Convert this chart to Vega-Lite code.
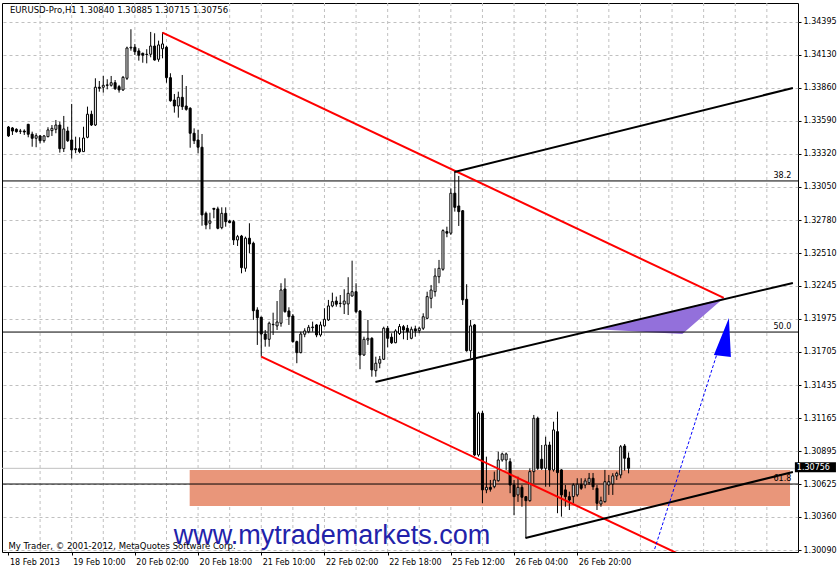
{
  "$schema": "https://vega.github.io/schema/vega-lite/v6.json",
  "width": 796,
  "height": 549,
  "autosize": "none",
  "padding": {"left": 2, "top": 3, "right": 41, "bottom": 18},
  "background": "#ffffff",
  "config": {
    "view": {"stroke": "#000000", "strokeWidth": 1},
    "font": "DejaVu Sans",
    "axis": {"labelFont": "DejaVu Sans", "labelFontSize": 8, "labelColor": "#000000", "tickColor": "#000000", "domain": false, "gridColor": "#c0c0c0", "gridDash": [3, 3], "gridWidth": 1, "labelOverlap": false, "labelFlush": false, "labelBound": false, "labelSeparation": 0}
  },
  "datasets": {
    "candles": [
      {"i":0,"o":1.33539,"h":1.33547,"l":1.33458,"c":1.33466},
      {"i":1,"o":1.33531,"h":1.33539,"l":1.33474,"c":1.33506},
      {"i":2,"o":1.33520,"h":1.33528,"l":1.33493,"c":1.33501},
      {"i":3,"o":1.33506,"h":1.33523,"l":1.33482,"c":1.33504},
      {"i":4,"o":1.33506,"h":1.33520,"l":1.33474,"c":1.33498},
      {"i":5,"o":1.33561,"h":1.33564,"l":1.33455,"c":1.33480},
      {"i":6,"o":1.33480,"h":1.33501,"l":1.33378,"c":1.33447},
      {"i":7,"o":1.33447,"h":1.33488,"l":1.33374,"c":1.33468},
      {"i":8,"o":1.33466,"h":1.33474,"l":1.33406,"c":1.33427},
      {"i":9,"o":1.33427,"h":1.33474,"l":1.33411,"c":1.33466},
      {"i":10,"o":1.33460,"h":1.33537,"l":1.33455,"c":1.33515},
      {"i":11,"o":1.33509,"h":1.33555,"l":1.33466,"c":1.33528},
      {"i":12,"o":1.33520,"h":1.33596,"l":1.33488,"c":1.33555},
      {"i":13,"o":1.33555,"h":1.33582,"l":1.33330,"c":1.33362},
      {"i":14,"o":1.33362,"h":1.33629,"l":1.33335,"c":1.33523},
      {"i":15,"o":1.33506,"h":1.33541,"l":1.33417,"c":1.33427},
      {"i":16,"o":1.33433,"h":1.33727,"l":1.33281,"c":1.33352},
      {"i":17,"o":1.33362,"h":1.33460,"l":1.33325,"c":1.33354},
      {"i":18,"o":1.33362,"h":1.33455,"l":1.33325,"c":1.33338},
      {"i":19,"o":1.33338,"h":1.33541,"l":1.33335,"c":1.33449},
      {"i":20,"o":1.33455,"h":1.33705,"l":1.33447,"c":1.33643},
      {"i":21,"o":1.33643,"h":1.33672,"l":1.33547,"c":1.33555},
      {"i":22,"o":1.33555,"h":1.33936,"l":1.33547,"c":1.33863},
      {"i":23,"o":1.33863,"h":1.33914,"l":1.33827,"c":1.33855},
      {"i":24,"o":1.33863,"h":1.33955,"l":1.33819,"c":1.33879},
      {"i":25,"o":1.33882,"h":1.33928,"l":1.33846,"c":1.33879},
      {"i":26,"o":1.33879,"h":1.33955,"l":1.33868,"c":1.33900},
      {"i":27,"o":1.33900,"h":1.33922,"l":1.33841,"c":1.33851},
      {"i":28,"o":1.33868,"h":1.33882,"l":1.33819,"c":1.33841},
      {"i":29,"o":1.33841,"h":1.33955,"l":1.33833,"c":1.33944},
      {"i":30,"o":1.33936,"h":1.34194,"l":1.33922,"c":1.34183},
      {"i":31,"o":1.34183,"h":1.34336,"l":1.34161,"c":1.34189},
      {"i":32,"o":1.34189,"h":1.34216,"l":1.34126,"c":1.34153},
      {"i":33,"o":1.34159,"h":1.34181,"l":1.34080,"c":1.34124},
      {"i":34,"o":1.34140,"h":1.34145,"l":1.34063,"c":1.34124},
      {"i":35,"o":1.34132,"h":1.34173,"l":1.34058,"c":1.34130},
      {"i":36,"o":1.34132,"h":1.34314,"l":1.34107,"c":1.34199},
      {"i":37,"o":1.34199,"h":1.34303,"l":1.34080,"c":1.34085},
      {"i":38,"o":1.34091,"h":1.34243,"l":1.34071,"c":1.34208},
      {"i":39,"o":1.34177,"h":1.34311,"l":1.34099,"c":1.34216},
      {"i":40,"o":1.34189,"h":1.34199,"l":1.33900,"c":1.33941},
      {"i":41,"o":1.33941,"h":1.33977,"l":1.33745,"c":1.33753},
      {"i":42,"o":1.33759,"h":1.33808,"l":1.33656,"c":1.33710},
      {"i":43,"o":1.33710,"h":1.33827,"l":1.33615,"c":1.33781},
      {"i":44,"o":1.33781,"h":1.33963,"l":1.33678,"c":1.33705},
      {"i":45,"o":1.33710,"h":1.33873,"l":1.33672,"c":1.33683},
      {"i":46,"o":1.33692,"h":1.33700,"l":1.33370,"c":1.33488},
      {"i":47,"o":1.33488,"h":1.33528,"l":1.33400,"c":1.33427},
      {"i":48,"o":1.33433,"h":1.33515,"l":1.33325,"c":1.33374},
      {"i":49,"o":1.33374,"h":1.33482,"l":1.32734,"c":1.32822},
      {"i":50,"o":1.32835,"h":1.32849,"l":1.32705,"c":1.32740},
      {"i":51,"o":1.32754,"h":1.32840,"l":1.32705,"c":1.32773},
      {"i":52,"o":1.32876,"h":1.32878,"l":1.32795,"c":1.32868},
      {"i":53,"o":1.32871,"h":1.32889,"l":1.32705,"c":1.32713},
      {"i":54,"o":1.32718,"h":1.32884,"l":1.32705,"c":1.32835},
      {"i":55,"o":1.32835,"h":1.32884,"l":1.32726,"c":1.32767},
      {"i":56,"o":1.32773,"h":1.32781,"l":1.32754,"c":1.32759},
      {"i":57,"o":1.32767,"h":1.32781,"l":1.32577,"c":1.32618},
      {"i":58,"o":1.32618,"h":1.32659,"l":1.32569,"c":1.32645},
      {"i":59,"o":1.32650,"h":1.32659,"l":1.32346,"c":1.32392},
      {"i":60,"o":1.32387,"h":1.32645,"l":1.32359,"c":1.32632},
      {"i":61,"o":1.32632,"h":1.32754,"l":1.32509,"c":1.32585},
      {"i":62,"o":1.32591,"h":1.32604,"l":1.31966,"c":1.32041},
      {"i":63,"o":1.32047,"h":1.32069,"l":1.31762,"c":1.31984},
      {"i":64,"o":1.31988,"h":1.31992,"l":1.31666,"c":1.31851},
      {"i":65,"o":1.31851,"h":1.31884,"l":1.31748,"c":1.31808},
      {"i":66,"o":1.31808,"h":1.31952,"l":1.31748,"c":1.31939},
      {"i":67,"o":1.31930,"h":1.32025,"l":1.31843,"c":1.31927},
      {"i":68,"o":1.31917,"h":1.32120,"l":1.31884,"c":1.31949},
      {"i":69,"o":1.31939,"h":1.32265,"l":1.31911,"c":1.32210},
      {"i":70,"o":1.32218,"h":1.32305,"l":1.32025,"c":1.32033},
      {"i":71,"o":1.32039,"h":1.32069,"l":1.31925,"c":1.31992},
      {"i":72,"o":1.31998,"h":1.32014,"l":1.31780,"c":1.31789},
      {"i":73,"o":1.31789,"h":1.31797,"l":1.31613,"c":1.31699},
      {"i":74,"o":1.31699,"h":1.31870,"l":1.31694,"c":1.31851},
      {"i":75,"o":1.31849,"h":1.31898,"l":1.31825,"c":1.31876},
      {"i":76,"o":1.31870,"h":1.31925,"l":1.31857,"c":1.31906},
      {"i":77,"o":1.31903,"h":1.31952,"l":1.31870,"c":1.31908},
      {"i":78,"o":1.31925,"h":1.31933,"l":1.31825,"c":1.31843},
      {"i":79,"o":1.31843,"h":1.31952,"l":1.31829,"c":1.31925},
      {"i":80,"o":1.31917,"h":1.32061,"l":1.31911,"c":1.31971},
      {"i":81,"o":1.31966,"h":1.32129,"l":1.31957,"c":1.32080},
      {"i":82,"o":1.32080,"h":1.32188,"l":1.32069,"c":1.32115},
      {"i":83,"o":1.32120,"h":1.32156,"l":1.32074,"c":1.32094},
      {"i":84,"o":1.32102,"h":1.32169,"l":1.32069,"c":1.32100},
      {"i":85,"o":1.32094,"h":1.32216,"l":1.32014,"c":1.32120},
      {"i":86,"o":1.32096,"h":1.32314,"l":1.32006,"c":1.32183},
      {"i":87,"o":1.32161,"h":1.32449,"l":1.32156,"c":1.32196},
      {"i":88,"o":1.32196,"h":1.32265,"l":1.32020,"c":1.32033},
      {"i":89,"o":1.32039,"h":1.32047,"l":1.31564,"c":1.31680},
      {"i":90,"o":1.31680,"h":1.31829,"l":1.31672,"c":1.31808},
      {"i":91,"o":1.31802,"h":1.31966,"l":1.31762,"c":1.31816},
      {"i":92,"o":1.31816,"h":1.31825,"l":1.31503,"c":1.31558},
      {"i":93,"o":1.31552,"h":1.31666,"l":1.31503,"c":1.31613},
      {"i":94,"o":1.31613,"h":1.31672,"l":1.31572,"c":1.31645},
      {"i":95,"o":1.31645,"h":1.31911,"l":1.31639,"c":1.31898},
      {"i":96,"o":1.31898,"h":1.31917,"l":1.31743,"c":1.31816},
      {"i":97,"o":1.31825,"h":1.31857,"l":1.31770,"c":1.31780},
      {"i":98,"o":1.31780,"h":1.31890,"l":1.31776,"c":1.31876},
      {"i":99,"o":1.31855,"h":1.31933,"l":1.31843,"c":1.31912},
      {"i":100,"o":1.31911,"h":1.31925,"l":1.31808,"c":1.31884},
      {"i":101,"o":1.31898,"h":1.31925,"l":1.31802,"c":1.31870},
      {"i":102,"o":1.31816,"h":1.31911,"l":1.31808,"c":1.31890},
      {"i":103,"o":1.31893,"h":1.31919,"l":1.31829,"c":1.31876},
      {"i":104,"o":1.31878,"h":1.31911,"l":1.31857,"c":1.31898},
      {"i":105,"o":1.31898,"h":1.32020,"l":1.31884,"c":1.31992},
      {"i":106,"o":1.31979,"h":1.32196,"l":1.31971,"c":1.32156},
      {"i":107,"o":1.32142,"h":1.32251,"l":1.32061,"c":1.32210},
      {"i":108,"o":1.32196,"h":1.32387,"l":1.32156,"c":1.32324},
      {"i":109,"o":1.32318,"h":1.32455,"l":1.32265,"c":1.32387},
      {"i":110,"o":1.32379,"h":1.32705,"l":1.32367,"c":1.32694},
      {"i":111,"o":1.32686,"h":1.32726,"l":1.32640,"c":1.32673},
      {"i":112,"o":1.32673,"h":1.33039,"l":1.32659,"c":1.32999},
      {"i":113,"o":1.32999,"h":1.33175,"l":1.32849,"c":1.32884},
      {"i":114,"o":1.32895,"h":1.33140,"l":1.32732,"c":1.32849},
      {"i":115,"o":1.32856,"h":1.32862,"l":1.32088,"c":1.32129},
      {"i":116,"o":1.32134,"h":1.32257,"l":1.31707,"c":1.31715},
      {"i":117,"o":1.31715,"h":1.31966,"l":1.31653,"c":1.31917},
      {"i":118,"o":1.31925,"h":1.31933,"l":1.30857,"c":1.30865},
      {"i":119,"o":1.30865,"h":1.31218,"l":1.30851,"c":1.31205},
      {"i":120,"o":1.31205,"h":1.31226,"l":1.30471,"c":1.30580},
      {"i":121,"o":1.30580,"h":1.30851,"l":1.30553,"c":1.30601},
      {"i":122,"o":1.30601,"h":1.30661,"l":1.30566,"c":1.30585},
      {"i":123,"o":1.30606,"h":1.30729,"l":1.30593,"c":1.30661},
      {"i":124,"o":1.30655,"h":1.30892,"l":1.30647,"c":1.30824},
      {"i":125,"o":1.30824,"h":1.30884,"l":1.30810,"c":1.30873},
      {"i":126,"o":1.30824,"h":1.30884,"l":1.30743,"c":1.30873},
      {"i":127,"o":1.30810,"h":1.30838,"l":1.30553,"c":1.30620},
      {"i":128,"o":1.30620,"h":1.30661,"l":1.30376,"c":1.30525},
      {"i":129,"o":1.30539,"h":1.30688,"l":1.30482,"c":1.30601},
      {"i":130,"o":1.30601,"h":1.30620,"l":1.30443,"c":1.30520},
      {"i":131,"o":1.30525,"h":1.30525,"l":1.30186,"c":1.30492},
      {"i":132,"o":1.30492,"h":1.30756,"l":1.30484,"c":1.30729},
      {"i":133,"o":1.30729,"h":1.31191,"l":1.30634,"c":1.31164},
      {"i":134,"o":1.31164,"h":1.31177,"l":1.30743,"c":1.30756},
      {"i":135,"o":1.30830,"h":1.30946,"l":1.30743,"c":1.30756},
      {"i":136,"o":1.30756,"h":1.31014,"l":1.30606,"c":1.30946},
      {"i":137,"o":1.30946,"h":1.30973,"l":1.30606,"c":1.30743},
      {"i":138,"o":1.30743,"h":1.31136,"l":1.30729,"c":1.31069},
      {"i":139,"o":1.31055,"h":1.31218,"l":1.30390,"c":1.30721},
      {"i":140,"o":1.30743,"h":1.30748,"l":1.30362,"c":1.30539},
      {"i":141,"o":1.30580,"h":1.30620,"l":1.30443,"c":1.30525},
      {"i":142,"o":1.30525,"h":1.30566,"l":1.30416,"c":1.30498},
      {"i":143,"o":1.30525,"h":1.30634,"l":1.30471,"c":1.30620},
      {"i":144,"o":1.30539,"h":1.30675,"l":1.30525,"c":1.30626},
      {"i":145,"o":1.30626,"h":1.30675,"l":1.30580,"c":1.30593},
      {"i":146,"o":1.30620,"h":1.30675,"l":1.30593,"c":1.30653},
      {"i":147,"o":1.30639,"h":1.30718,"l":1.30620,"c":1.30675},
      {"i":148,"o":1.30675,"h":1.30718,"l":1.30580,"c":1.30606},
      {"i":149,"o":1.30593,"h":1.30620,"l":1.30416,"c":1.30471},
      {"i":150,"o":1.30465,"h":1.30525,"l":1.30443,"c":1.30492},
      {"i":151,"o":1.30484,"h":1.30743,"l":1.30476,"c":1.30647},
      {"i":152,"o":1.30620,"h":1.30702,"l":1.30539,"c":1.30647},
      {"i":153,"o":1.30628,"h":1.30716,"l":1.30539,"c":1.30694},
      {"i":154,"o":1.30694,"h":1.30729,"l":1.30661,"c":1.30716},
      {"i":155,"o":1.30702,"h":1.30946,"l":1.30675,"c":1.30932},
      {"i":156,"o":1.30938,"h":1.30954,"l":1.30737,"c":1.30838},
      {"i":157,"o":1.30840,"h":1.30885,"l":1.30715,"c":1.30756}
    ],
    "trend": [
      {"id":"r1","i":39.0,"p":1.34308},
      {"id":"r1","i":181.1,"p":1.32145},
      {"id":"r2","i":64.0,"p":1.31666},
      {"id":"r2","i":181.1,"p":1.29884},
      {"id":"b1","i":112.9,"p":1.33172},
      {"id":"b1","i":198.6,"p":1.33857},
      {"id":"b2","i":92.9,"p":1.31460},
      {"id":"b2","i":198.6,"p":1.32267},
      {"id":"b3","i":130.9,"p":1.30188},
      {"id":"b3","i":198.6,"p":1.30726}
    ],
    "fib": [
      {"lvl":"38.2","p":1.33099},
      {"lvl":"50.0","p":1.31867},
      {"lvl":"61.8","p":1.30628}
    ],
    "vgrid": [
      {"i":8},{"i":16},{"i":24},{"i":32},{"i":40},{"i":48},{"i":56},{"i":64},{"i":72},{"i":80},{"i":88},{"i":96},{"i":104},{"i":112},{"i":120},{"i":128},{"i":136},{"i":144},{"i":152},{"i":160},{"i":168},{"i":176},{"i":184},{"i":192}
    ]
  },
  "layer": [
    {
      "data": {"name": "candles"},
      "mark": {"type": "rule", "color": "#000000", "strokeWidth": 1, "opacity": 0},
      "encoding": {
        "x": {"field": "i", "type": "quantitative", "scale": {"domain": [-0.375, 198.625], "nice": false, "zero": false},
          "axis": {"title": null, "values": [0,16,32,48,64,80,96,112,128,144], "tickCount": 40, "grid": false, "ticks": true, "tickSize": 3, "labelAlign": "left", "labelBaseline": "top", "labelPadding": 3, "labelOffset": 1, "labelFlush": false, "labelOverlap": false, "labelBound": false,
            "labelExpr": "['18 Feb 2013','19 Feb 10:00','20 Feb 02:00','20 Feb 18:00','21 Feb 10:00','22 Feb 02:00','22 Feb 18:00','25 Feb 12:00','26 Feb 04:00','26 Feb 20:00'][round(datum.value / 16)]"}},
        "y": {"field": "l", "type": "quantitative", "scale": {"domain": [1.300737, 1.345499], "nice": false, "zero": false},
          "axis": {"title": null, "orient": "right", "values": [1.30090,1.30360,1.30625,1.30895,1.31165,1.31435,1.31705,1.31975,1.32245,1.32510,1.32780,1.33050,1.33320,1.33590,1.33860,1.34130,1.34395], "tickCount": 40, "format": ".5f", "grid": true, "ticks": true, "tickSize": 3, "labelPadding": 2, "labelAlign": "left", "labelBaseline": "middle", "labelOverlap": false, "labelFlush": false, "labelBound": false}}
      }
    },
    {
      "data": {"name": "vgrid"},
      "mark": {"type": "rule", "color": "#c0c0c0", "strokeWidth": 1, "strokeDash": [3, 3]},
      "encoding": {
        "x": {"field": "i", "type": "quantitative", "scale": {"domain": [-0.375, 198.625], "nice": false, "zero": false}}
      }
    },
    {
      "data": {"values": [{"i1":45.875,"i2":197.875,"p1":1.30742,"p2":1.30449}]},
      "mark": {"type": "rect", "color": "#E9967A"},
      "encoding": {
        "x": {"field": "i1", "type": "quantitative", "scale": {"domain": [-0.375, 198.625], "nice": false, "zero": false}},
        "x2": {"field": "i2"},
        "y": {"field": "p1", "type": "quantitative", "scale": {"domain": [1.300737, 1.345499], "nice": false, "zero": false}},
        "y2": {"field": "p2"}
      }
    },
    {
      "data": {"values": [{"i":149.1,"top":1.31890,"bot":1.31890},{"i":170.6,"top":1.32054,"bot":1.31851},{"i":181.1,"top":1.32145,"bot":1.32145}]},
      "mark": {"type": "area", "color": "#9370DB", "opacity": 1},
      "encoding": {
        "x": {"field": "i", "type": "quantitative", "scale": {"domain": [-0.375, 198.625], "nice": false, "zero": false}},
        "y": {"field": "top", "type": "quantitative", "scale": {"domain": [1.300737, 1.345499], "nice": false, "zero": false}},
        "y2": {"field": "bot"}
      }
    },
    {
      "data": {"values": [{"p": 1.30756}]},
      "mark": {"type": "rule", "color": "#c0c0c0", "strokeWidth": 1},
      "encoding": {
        "y": {"field": "p", "type": "quantitative", "scale": {"domain": [1.300737, 1.345499], "nice": false, "zero": false}}
      }
    },
    {
      "data": {"name": "fib"},
      "mark": {"type": "rule", "color": "#000000", "strokeWidth": 1},
      "encoding": {
        "y": {"field": "p", "type": "quantitative", "scale": {"domain": [1.300737, 1.345499], "nice": false, "zero": false}}
      }
    },
    {
      "data": {"name": "fib"},
      "mark": {"type": "text", "align": "right", "baseline": "bottom", "dy": -1, "fontSize": 8, "font": "DejaVu Sans", "color": "#000000"},
      "encoding": {
        "x": {"datum": 198.2, "type": "quantitative", "scale": {"domain": [-0.375, 198.625], "nice": false, "zero": false}},
        "y": {"field": "p", "type": "quantitative", "scale": {"domain": [1.300737, 1.345499], "nice": false, "zero": false}},
        "text": {"field": "lvl"}
      }
    },
    {
      "data": {"name": "candles"},
      "mark": {"type": "rule", "color": "#000000", "strokeWidth": 1},
      "encoding": {
        "x": {"field": "i", "type": "quantitative", "scale": {"domain": [-0.375, 198.625], "nice": false, "zero": false}},
        "y": {"field": "l", "type": "quantitative", "scale": {"domain": [1.300737, 1.345499], "nice": false, "zero": false}},
        "y2": {"field": "h"}
      }
    },
    {
      "data": {"name": "candles"},
      "mark": {"type": "bar", "size": 2, "stroke": "#000000", "strokeWidth": 1},
      "encoding": {
        "x": {"field": "i", "type": "quantitative", "scale": {"domain": [-0.375, 198.625], "nice": false, "zero": false}},
        "y": {"field": "o", "type": "quantitative", "scale": {"domain": [1.300737, 1.345499], "nice": false, "zero": false}},
        "y2": {"field": "c"},
        "fill": {"condition": {"test": "datum.c > datum.o", "value": "#ffffff"}, "value": "#000000"}
      }
    },
    {
      "data": {"name": "trend"},
      "transform": [{"filter": "substring(datum.id, 0, 1) == 'r'"}],
      "mark": {"type": "line", "color": "#ff0000", "strokeWidth": 2, "clip": true},
      "encoding": {
        "x": {"field": "i", "type": "quantitative", "scale": {"domain": [-0.375, 198.625], "nice": false, "zero": false}},
        "y": {"field": "p", "type": "quantitative", "scale": {"domain": [1.300737, 1.345499], "nice": false, "zero": false}},
        "detail": {"field": "id"}
      }
    },
    {
      "data": {"name": "trend"},
      "transform": [{"filter": "substring(datum.id, 0, 1) == 'b'"}],
      "mark": {"type": "line", "color": "#000000", "strokeWidth": 2, "clip": true},
      "encoding": {
        "x": {"field": "i", "type": "quantitative", "scale": {"domain": [-0.375, 198.625], "nice": false, "zero": false}},
        "y": {"field": "p", "type": "quantitative", "scale": {"domain": [1.300737, 1.345499], "nice": false, "zero": false}},
        "detail": {"field": "id"}
      }
    },
    {
      "data": {"values": [{"i":163.6,"p":1.30098},{"i":180.1,"p":1.31762}]},
      "mark": {"type": "line", "color": "#0000ff", "strokeWidth": 1, "strokeDash": [3, 2], "clip": true},
      "encoding": {
        "x": {"field": "i", "type": "quantitative", "scale": {"domain": [-0.375, 198.625], "nice": false, "zero": false}},
        "y": {"field": "p", "type": "quantitative", "scale": {"domain": [1.300737, 1.345499], "nice": false, "zero": false}}
      }
    },
    {
      "data": {"values": [{"i":178.6,"top":1.31680,"bot":1.31680},{"i":182.4,"top":1.31982,"bot":1.31666},{"i":182.9,"top":1.31664,"bot":1.31664}]},
      "mark": {"type": "area", "color": "#0000ff", "opacity": 1},
      "encoding": {
        "x": {"field": "i", "type": "quantitative", "scale": {"domain": [-0.375, 198.625], "nice": false, "zero": false}},
        "y": {"field": "top", "type": "quantitative", "scale": {"domain": [1.300737, 1.345499], "nice": false, "zero": false}},
        "y2": {"field": "bot"}
      }
    },
    {
      "data": {"values": [{"i":0.375,"p":1.34493,"t":"EURUSD-Pro,H1  1.30840 1.30885 1.30715 1.30756"}]},
      "mark": {"type": "text", "align": "left", "baseline": "middle", "fontSize": 8.5, "font": "DejaVu Sans", "color": "#000000"},
      "encoding": {
        "x": {"field": "i", "type": "quantitative", "scale": {"domain": [-0.375, 198.625], "nice": false, "zero": false}},
        "y": {"field": "p", "type": "quantitative", "scale": {"domain": [1.300737, 1.345499], "nice": false, "zero": false}},
        "text": {"field": "t"}
      }
    },
    {
      "data": {"values": [{"i":0.0,"p":1.30125,"t":"My Trader, © 2001-2012, MetaQuotes Software Corp."}]},
      "mark": {"type": "text", "align": "left", "baseline": "middle", "fontSize": 8.5, "font": "DejaVu Sans", "color": "#000000"},
      "encoding": {
        "x": {"field": "i", "type": "quantitative", "scale": {"domain": [-0.375, 198.625], "nice": false, "zero": false}},
        "y": {"field": "p", "type": "quantitative", "scale": {"domain": [1.300737, 1.345499], "nice": false, "zero": false}},
        "text": {"field": "t"}
      }
    },
    {
      "data": {"values": [{"i":81.9,"p":1.30139,"t":"www.mytrademarkets.com"}]},
      "mark": {"type": "text", "align": "center", "baseline": "alphabetic", "fontSize": 27, "font": "Liberation Sans", "color": "#2222aa"},
      "encoding": {
        "x": {"field": "i", "type": "quantitative", "scale": {"domain": [-0.375, 198.625], "nice": false, "zero": false}},
        "y": {"field": "p", "type": "quantitative", "scale": {"domain": [1.300737, 1.345499], "nice": false, "zero": false}},
        "text": {"field": "t"}
      }
    },
    {
      "data": {"values": [{"i1":199.1,"i2":209.5,"p1":1.30805,"p2":1.30724}]},
      "mark": {"type": "rect", "color": "#000000"},
      "encoding": {
        "x": {"field": "i1", "type": "quantitative", "scale": {"domain": [-0.375, 198.625], "nice": false, "zero": false}},
        "x2": {"field": "i2"},
        "y": {"field": "p1", "type": "quantitative", "scale": {"domain": [1.300737, 1.345499], "nice": false, "zero": false}},
        "y2": {"field": "p2"}
      }
    },
    {
      "data": {"values": [{"i":199.6,"p":1.30756,"t":"1.30756"}]},
      "mark": {"type": "text", "align": "left", "baseline": "middle", "fontSize": 8, "font": "DejaVu Sans", "color": "#ffffff"},
      "encoding": {
        "x": {"field": "i", "type": "quantitative", "scale": {"domain": [-0.375, 198.625], "nice": false, "zero": false}},
        "y": {"field": "p", "type": "quantitative", "scale": {"domain": [1.300737, 1.345499], "nice": false, "zero": false}},
        "text": {"field": "t"}
      }
    }
  ]
}
